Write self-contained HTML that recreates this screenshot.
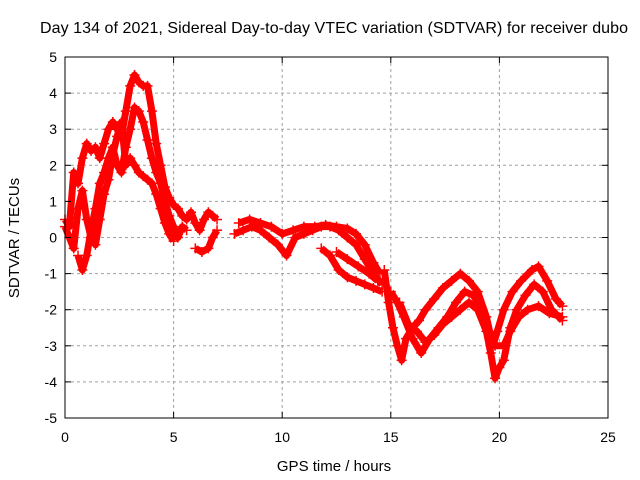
<!DOCTYPE html>
<html><head><meta charset="utf-8"><style>
body{margin:0;background:#fff;}
svg{display:block;font-family:"Liberation Sans",sans-serif;}
</style></head><body>
<svg id="chart" width="640" height="480">
<rect width="640" height="480" fill="#fff"/>
<text x="334" y="33" text-anchor="middle" font-size="16" textLength="588">Day 134 of 2021, Sidereal Day-to-day VTEC variation (SDTVAR) for receiver dubo</text>
<text x="334" y="471" text-anchor="middle" font-size="15">GPS time / hours</text>
<text transform="translate(19,238) rotate(-90)" text-anchor="middle" font-size="15">SDTVAR / TECUs</text>
<g id="grid"></g><g id="data"></g><g id="axes"></g>
</svg>
<script>
const xTicks=[0,5,10,15,20,25];
const yTicks=[-5,-4,-3,-2,-1,0,1,2,3,4,5];
const track1=[[0,0.5],[0.2,0.3],[0.4,1.8],[0.6,1.5],[0.8,2.2],[1.0,2.6],[1.2,2.4],[1.4,2.5],[1.6,2.2],[1.8,2.6],[2.0,3.0],[2.2,3.2],[2.4,3.0],[2.6,2.8],[2.8,3.5],[3.0,4.2],[3.2,4.5],[3.4,4.3],[3.6,4.2],[3.8,4.2],[4.0,3.5],[4.2,2.6],[4.4,2.0],[4.6,1.4],[4.8,1.1],[5.0,0.9],[5.2,0.8],[5.4,0.6],[5.6,0.5],[5.8,0.7],[6.0,0.4],[6.2,0.2],[6.4,0.5],[6.6,0.7],[6.8,0.6],[7.0,0.5]];
const track2=[[0.6,-0.5],[0.8,-0.9],[1.0,-0.5],[1.2,0.2],[1.4,0.8],[1.6,1.5],[1.8,1.8],[2.0,2.2],[2.2,2.5],[2.4,2.0],[2.6,1.8],[2.8,2.5],[3.0,3.0],[3.2,3.6],[3.4,3.5],[3.6,3.2],[3.8,2.7],[4.0,2.2],[4.2,1.8],[4.4,1.5],[4.6,1.0],[4.8,0.6],[5.0,0.3],[5.2,0.0],[5.4,0.3],[5.6,0.2]];
const track3=[[0.0,0.3],[0.2,0.0],[0.4,-0.3],[0.6,0.8],[0.8,1.3],[1.0,0.5],[1.2,0.0],[1.4,-0.2],[1.6,0.5],[1.8,1.2],[2.0,1.6],[2.2,2.3],[2.4,2.8],[2.6,3.2],[2.8,2.0],[3.0,2.2],[3.2,2.0],[3.4,1.8],[3.6,1.7],[3.8,1.6],[4.0,1.5],[4.2,1.2],[4.4,0.8],[4.6,0.4],[4.8,0.1],[5.0,-0.1]];
const track4=[[6.0,-0.3],[6.3,-0.4],[6.6,-0.3],[6.8,0.0],[7.0,0.2]];
const track5=[[7.8,0.1],[8.2,0.2],[8.6,0.3],[9.0,0.2],[9.4,0.0],[9.8,-0.2],[10.2,-0.5],[10.6,0.0],[11.0,0.1],[11.4,0.2],[11.8,0.3],[12.2,0.3],[12.6,0.2],[13.0,0.0],[13.4,-0.2],[13.8,-0.6],[14.2,-1.0],[14.6,-1.3]];
const track6=[[8.0,0.4],[8.5,0.5],[9.0,0.4],[9.5,0.3],[10,0.1],[10.5,0.2],[11,0.3],[11.5,0.3],[12,0.35],[12.5,0.3],[13,0.25],[13.4,0.1],[13.8,-0.2],[14.2,-0.7],[14.5,-1.0]];
const track7=[[11.8,-0.3],[12.2,-0.5],[12.6,-0.9],[13,-1.1],[13.4,-1.2],[13.8,-1.3],[14.2,-1.4],[14.6,-1.5]];
const track8=[[12.5,-0.4],[13,-0.6],[13.5,-0.8],[14,-1.0],[14.4,-1.2]];
const track9=[[14.7,-0.9],[14.9,-1.8],[15.1,-2.5],[15.3,-3.0],[15.5,-3.4],[15.7,-2.8],[16,-2.5],[16.3,-2.3],[16.6,-2.0],[17,-1.7],[17.4,-1.4],[17.8,-1.2],[18.2,-1.0],[18.6,-1.2],[19.0,-1.5],[19.4,-2.2],[19.7,-3.0],[19.9,-2.6],[20.2,-2.0],[20.6,-1.5],[21,-1.2],[21.5,-0.9],[21.8,-0.8],[22.2,-1.2],[22.6,-1.7],[22.9,-1.9]];
const track10=[[15,-1.5],[15.3,-1.8],[15.6,-2.2],[16,-2.8],[16.4,-3.2],[16.8,-2.8],[17.2,-2.5],[17.6,-2.2],[18,-1.8],[18.4,-1.5],[18.8,-1.6],[19.2,-2.0],[19.6,-3.2],[19.8,-3.9],[20.0,-3.6],[20.2,-3.4],[20.5,-2.5],[20.8,-2.0],[21.2,-1.6],[21.6,-1.3],[22,-1.5],[22.4,-2.0],[22.9,-2.3]];
const track11=[[15.4,-1.8],[15.8,-2.4],[16.2,-2.6],[16.6,-2.9],[17,-2.7],[17.4,-2.4],[17.8,-2.2],[18.2,-2.0],[18.6,-1.8],[19.0,-2.0],[19.4,-2.6],[19.8,-3.0],[20.2,-3.0],[20.5,-2.6],[20.9,-2.2],[21.3,-2.0],[21.8,-1.9],[22.3,-2.1],[22.9,-2.2]];
const tracks=[track1,track2,track3,track4,track5,track6,track7,track8,track9,track10,track11];

const X0=65,X1=608,Y0=418,Y1=57;
const xs=v=>X0+(v-0)/(25-0)*(X1-X0);
const ys=v=>Y0-(v+5)/10*(Y0-Y1);
const NS="http://www.w3.org/2000/svg";
function mk(tag,attrs,parent){const e=document.createElementNS(NS,tag);for(const k in attrs)e.setAttribute(k,attrs[k]);parent.appendChild(e);return e;}
const grid=document.getElementById('grid'),axes=document.getElementById('axes'),data=document.getElementById('data');
xTicks.forEach(t=>{
 const x=xs(t);
 if(t>0&&t<25){const g=mk('line',{x1:x,x2:x,y1:Y1,y2:Y0,stroke:'#a0a0a0','stroke-dasharray':'3,3'},grid);
 
 }
 mk('line',{x1:x,x2:x,y1:Y0,y2:Y0-6,stroke:'#000'},axes);
 mk('line',{x1:x,x2:x,y1:Y1,y2:Y1+6,stroke:'#000'},axes);
 const l=mk('text',{x:x,y:Y0+24,'text-anchor':'middle','font-size':'14'},axes);l.textContent=t;
 
 
});
yTicks.forEach(t=>{
 const y=ys(t);
 if(t>-5&&t<5){const g=mk('line',{x1:X0,x2:X1,y1:y,y2:y,stroke:'#a0a0a0','stroke-dasharray':'3,3'},grid);
 
 }
 mk('line',{x1:X0,x2:X0+6,y1:y,y2:y,stroke:'#000'},axes);
 mk('line',{x1:X1,x2:X1-6,y1:y,y2:y,stroke:'#000'},axes);
 const l=mk('text',{x:X0-8,y:y+5,'text-anchor':'end','font-size':'14'},axes);l.textContent=t;
 
 
});
const fr=mk('rect',{x:X0,y:Y1,width:X1-X0,height:Y0-Y1,fill:'none',stroke:'#000'},axes);


tracks.forEach((tr,i)=>{
 const g=mk('g',{},data);
 
 
 mk('polyline',{points:tr.map(p=>xs(p[0])+','+ys(p[1])).join(' '),fill:'none',stroke:'#f00','stroke-width':7,'stroke-linejoin':'round'},g);
 tr.forEach(p=>{const x=xs(p[0]),y=ys(p[1]);
  mk('path',{d:`M${x-5},${y}h10M${x},${y-5}v10`,stroke:'#f00','stroke-width':1.5},g);});
});
</script>
</body></html>
